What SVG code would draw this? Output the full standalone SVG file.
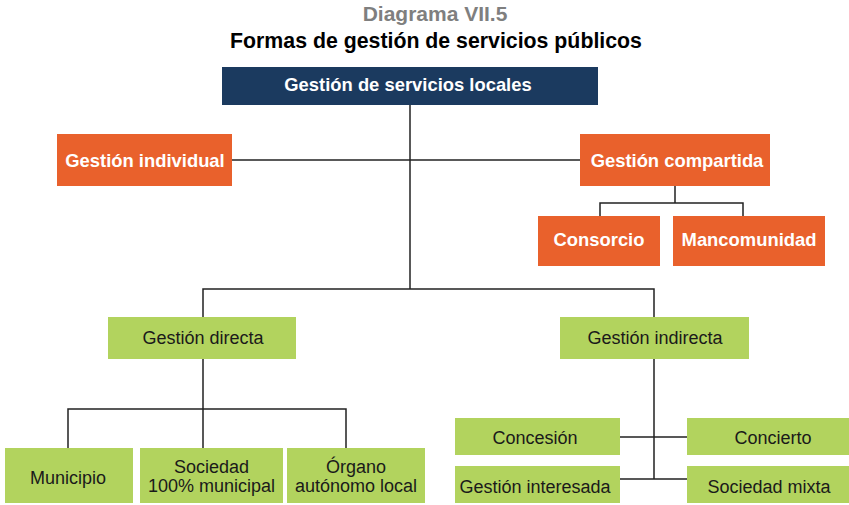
<svg xmlns="http://www.w3.org/2000/svg" width="849" height="505" viewBox="0 0 849 505">
<style>
text{font-family:"Liberation Sans",Arial,sans-serif;text-anchor:middle}
.t1{font-size:21px;font-weight:bold;fill:#7f7f7f}
.t2{font-size:21.3px;font-weight:bold;fill:#000}
.navy{fill:#1b3a5f}
.orange{fill:#e9612c}
.green{fill:#b2d35e}
.lw{font-size:18.4px;font-weight:bold;fill:#fff}
.ld{font-size:18px;fill:#1a1a1a}
.conn path{fill:none;stroke:#222;stroke-width:1.5}
</style>
<rect width="849" height="505" fill="#fff"/>
<text class="t1" x="435" y="21">Diagrama VII.5</text>
<text class="t2" x="436" y="48">Formas de gestión de servicios públicos</text>
<g class="conn" id="connectors">
<path d="M410 105V289"/>
<path d="M232 160H580"/>
<path d="M675 186V203M600 216V203H743V216"/>
<path d="M203 317V289H654V317"/>
<path d="M203 359V409M68 448V409H346V448M203 409V448"/>
<path d="M654 359V479M620 437H687M620 479H687"/>
</g>
<g id="n-root"><rect class="navy" x="222" y="67" width="376" height="38"/><text class="lw" x="408" y="91">Gestión de servicios locales</text></g>
<g id="n-individual"><rect class="orange" x="57" y="134" width="175" height="52"/><text class="lw" x="145" y="167">Gestión individual</text></g>
<g id="n-compartida"><rect class="orange" x="580" y="134" width="190" height="52"/><text class="lw" x="677" y="167">Gestión compartida</text></g>
<g id="n-consorcio"><rect class="orange" x="538" y="216" width="122" height="50"/><text class="lw" x="599" y="246">Consorcio</text></g>
<g id="n-mancomunidad"><rect class="orange" x="673" y="216" width="152" height="50"/><text class="lw" x="749" y="246">Mancomunidad</text></g>
<g id="n-directa"><rect class="green" x="108" y="317" width="188" height="42"/><text class="ld" x="203" y="344">Gestión directa</text></g>
<g id="n-indirecta"><rect class="green" x="560" y="317" width="189" height="42"/><text class="ld" x="655" y="344">Gestión indirecta</text></g>
<g id="n-municipio"><rect class="green" x="5" y="448" width="128" height="55"/><text class="ld" x="68" y="484">Municipio</text></g>
<g id="n-sociedad"><rect class="green" x="140" y="448" width="143" height="55"/><text class="ld" x="211.5" y="473">Sociedad</text><text class="ld" x="211.5" y="492">100% municipal</text></g>
<g id="n-organo"><rect class="green" x="287" y="448" width="138" height="55"/><text class="ld" x="356" y="473">Órgano</text><text class="ld" x="356" y="492">autónomo local</text></g>
<g id="n-concesion"><rect class="green" x="455" y="418" width="165" height="37"/><text class="ld" x="535" y="444">Concesión</text></g>
<g id="n-concierto"><rect class="green" x="687" y="418" width="162" height="37"/><text class="ld" x="773" y="444">Concierto</text></g>
<g id="n-interesada"><rect class="green" x="455" y="466" width="165" height="37"/><text class="ld" x="535" y="493">Gestión interesada</text></g>
<g id="n-mixta"><rect class="green" x="687" y="466" width="162" height="37"/><text class="ld" x="769" y="493">Sociedad mixta</text></g>
</svg>
